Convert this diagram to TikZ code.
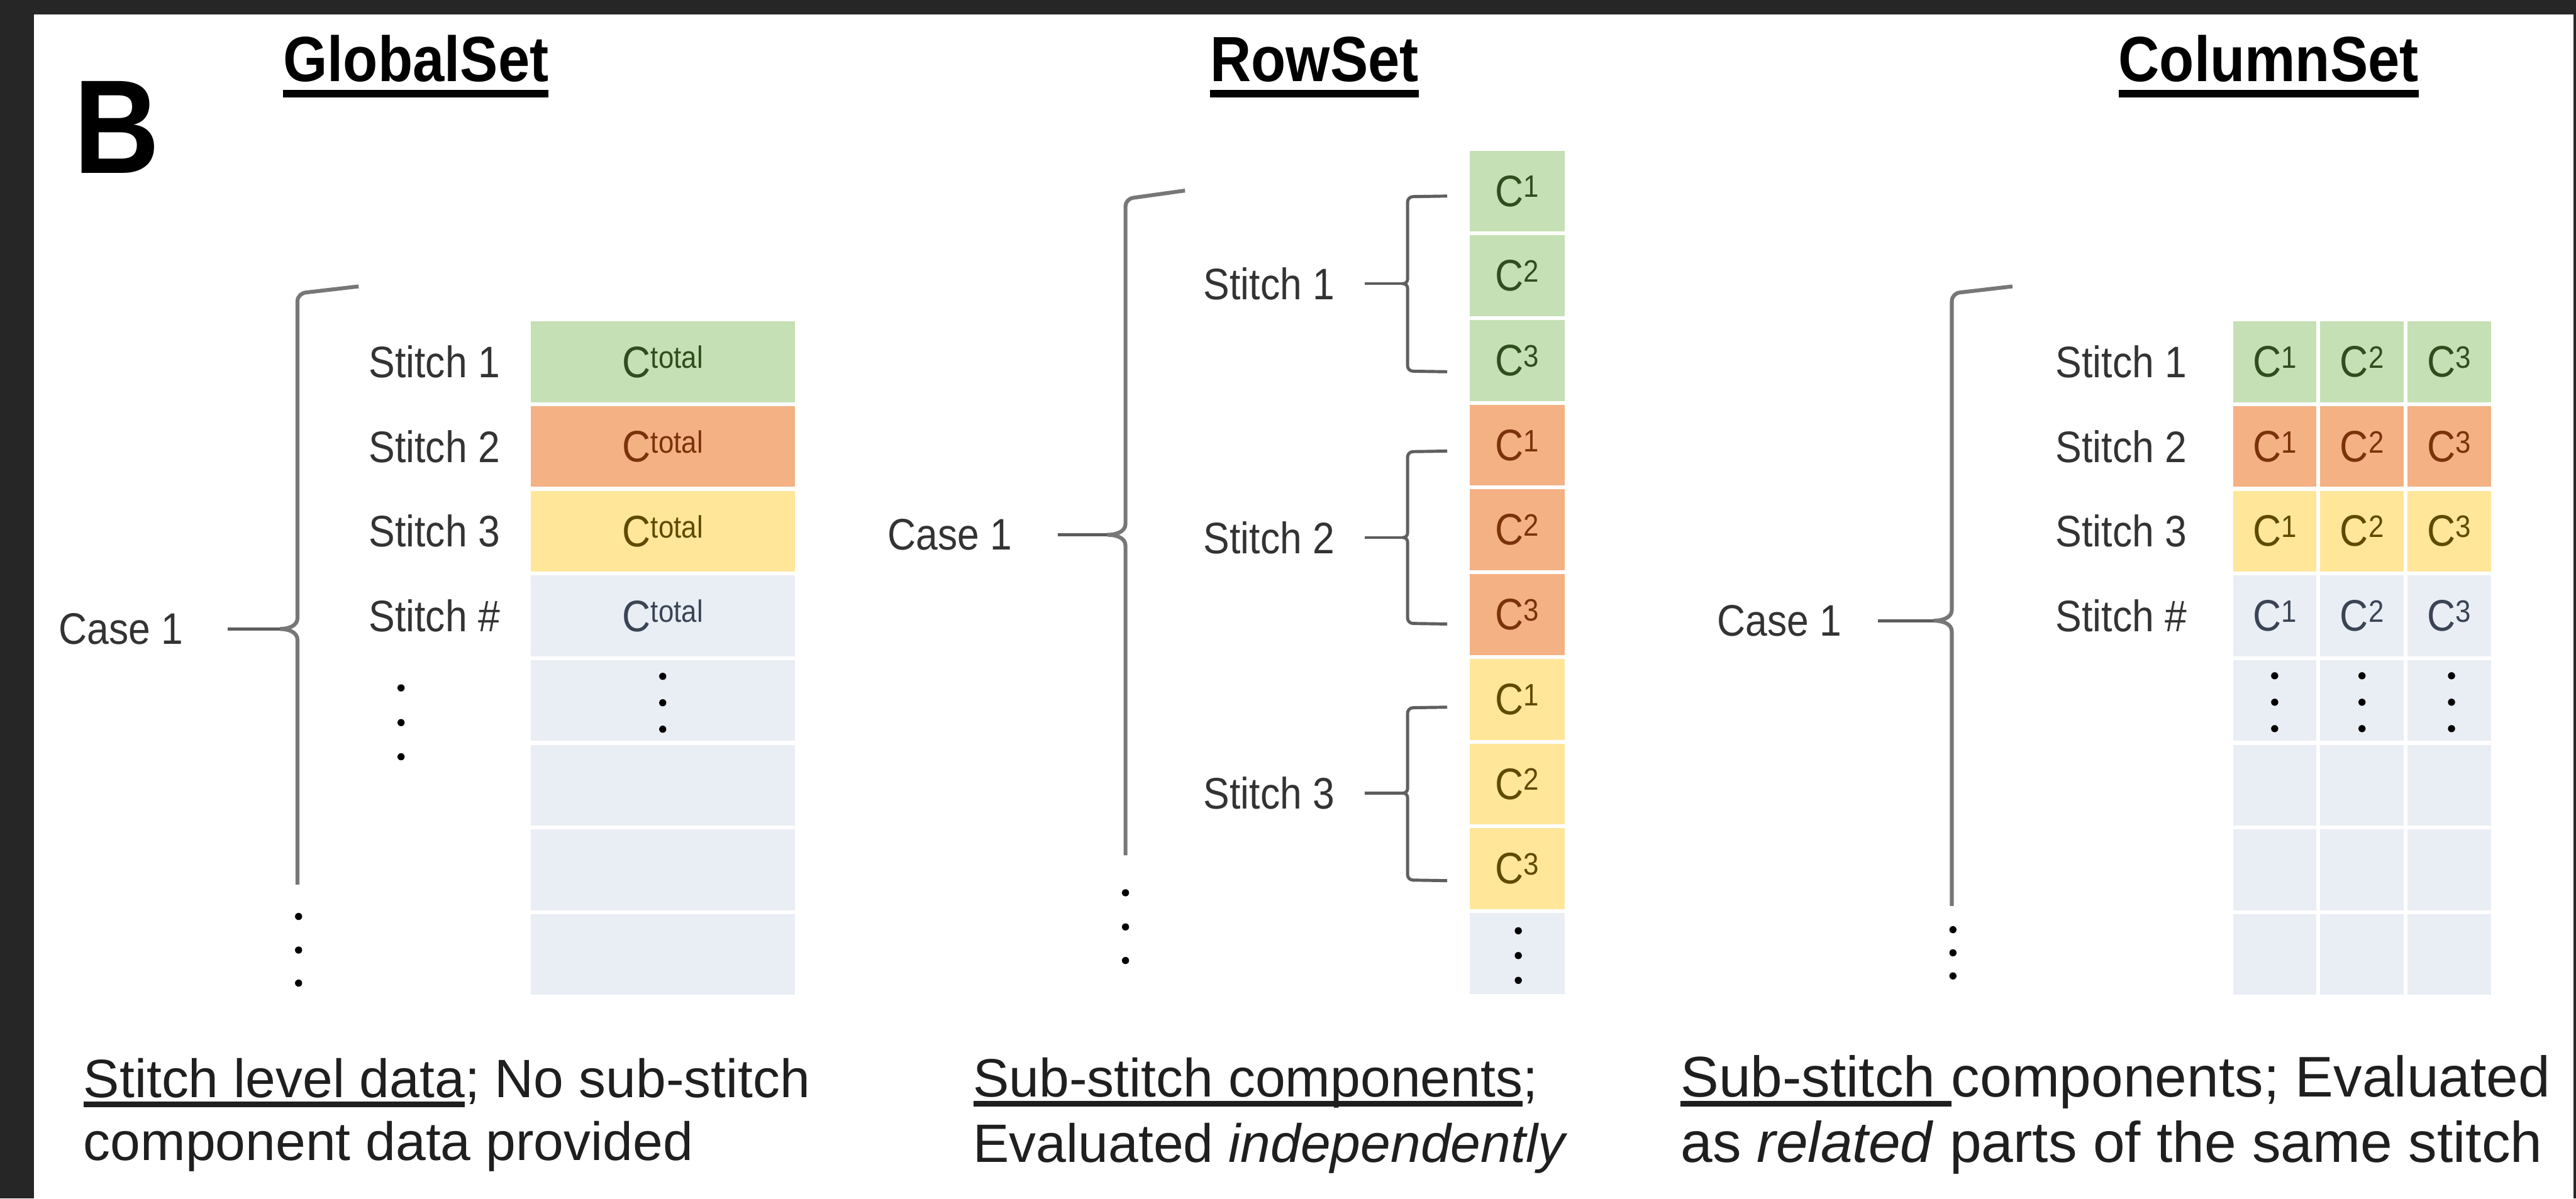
\documentclass[tikz,border=0pt]{standalone}
\usepackage{fontspec}
\setmainfont{Liberation Sans}
\newfontfamily\narrowfont[FakeStretch=0.89]{Liberation Sans}
\usepackage{tikz}
\definecolor{edgedark}{HTML}{262626}
\definecolor{cgreen}{HTML}{C5E0B4}
\definecolor{corange}{HTML}{F4B183}
\definecolor{cyellow}{HTML}{FFE699}
\definecolor{cblue}{HTML}{E9EDF4}
\definecolor{tgreen}{HTML}{2F4D1E}
\definecolor{torange}{HTML}{7A320A}
\definecolor{tyellow}{HTML}{5E4A00}
\definecolor{tblue}{HTML}{3A4454}
\definecolor{ink}{HTML}{333333}
\definecolor{bracegray}{HTML}{777777}
\newsavebox\ulbox
\newcommand\Csup[1]{C\raisebox{4.6pt}{\fontsize{16}{16}\selectfont#1}}
\newcommand\headline[1]{\sbox\ulbox{#1}\rlap{\rule[-8.2pt]{\wd\ulbox}{4pt}}\usebox\ulbox}
\newcommand\capline[1]{\sbox\ulbox{#1}\rlap{\rule[-4.8pt]{\wd\ulbox}{2.8pt}}\usebox\ulbox}
\tikzset{cell/.style={draw=white,line width=2pt,inner sep=0pt,font=\narrowfont\fontsize{22.8}{24}\selectfont}, gfill/.style={fill=cgreen,text=tgreen}, ofill/.style={fill=corange,text=torange}, yfill/.style={fill=cyellow,text=tyellow}, bfill/.style={fill=cblue,text=tblue}, globcell/.style={minimum width=4.86cm,minimum height=1.5375cm}, rowcell/.style={minimum width=1.80cm,minimum height=1.538cm}, colcell/.style={minimum width=1.583cm,minimum height=1.5375cm}, stitchlbl/.style={anchor=west,inner sep=0pt,text=ink,font=\narrowfont\fontsize{22.8}{24}\selectfont}, caselbl/.style={inner sep=0pt,text=ink,font=\narrowfont\fontsize{22.8}{24}\selectfont}, heading/.style={anchor=base,inner sep=0pt,font=\narrowfont\bfseries\fontsize{33}{36}\selectfont}, capt/.style={anchor=base west,inner sep=0pt,text=black!88,font=\fontsize{27.9}{32}\selectfont}, brace/.style={draw=bracegray,line width=2pt}, sbrace/.style={draw=bracegray!80!black,line width=1.6pt}, link/.style={draw=ink!80,line width=1.5pt}}

\begin{document}
\begin{tikzpicture}
\useasboundingbox (0,0) rectangle (46.76,-21.76);
\fill[edgedark] (0,0) rectangle (46.76,-21.76);
\fill[white] (0.62,-0.26) rectangle (46.71,-21.76);
\node[anchor=base west,inner sep=0pt,font=\narrowfont\bfseries\fontsize{69}{69}\selectfont] (panel) at (1.34,-3.15) {B};
\node[heading] (globalset) at (7.55,-1.48) {\headline{GlobalSet}};
\node[heading] (rowset) at (23.86,-1.48) {\headline{RowSet}};
\node[heading] (columnset) at (41.18,-1.48) {\headline{ColumnSet}};
% GlobalSet
\node[caselbl] (gcase) at (2.20,-11.42) {Case 1};
\coordinate (gtip) at (5.08,-11.42);
\draw[link] ([xshift=8mm]gcase.east) -- (gtip);
\draw[brace] (6.51,-5.20) -- (5.56,-5.31) to[out=185,in=90] (5.40,-5.47) -- (5.40,-11.22) to[out=-90,in=0] (gtip) to[out=0,in=90] (5.40,-11.62) -- (5.40,-16.06);
\fill (5.42,-16.64) circle (0.065) (5.42,-17.25) circle (0.065) (5.42,-17.85) circle (0.065);
\node[stitchlbl] (g1) at (6.69,-6.57) {Stitch 1};
\node[stitchlbl] (g2) at (6.69,-8.11) {Stitch 2};
\node[stitchlbl] (g3) at (6.69,-9.64) {Stitch 3};
\node[stitchlbl] (g4) at (6.69,-11.18) {Stitch \#};
\fill (7.28,-12.49) circle (0.065) (7.28,-13.12) circle (0.065) (7.28,-13.74) circle (0.065);
\node[cell,globcell,gfill] (gc1) at (12.03,-6.569) {\Csup{total}};
\node[cell,globcell,ofill] (gc2) at (12.03,-8.106) {\Csup{total}};
\node[cell,globcell,yfill] (gc3) at (12.03,-9.644) {\Csup{total}};
\node[cell,globcell,bfill] (gc4) at (12.03,-11.181) {\Csup{total}};
\node[cell,globcell,bfill] (gc5) at (12.03,-12.719) {};
\node[cell,globcell,bfill] (gc6) at (12.03,-14.256) {};
\node[cell,globcell,bfill] (gc7) at (12.03,-15.794) {};
\node[cell,globcell,bfill] (gc8) at (12.03,-17.331) {};
\fill (12.03,-12.28) circle (0.065) (12.03,-12.76) circle (0.065) (12.03,-13.24) circle (0.065);
\node[capt] (gcap1) at (1.51,-19.93) {\capline{Stitch level data}; No sub-stitch};
\node[capt] (gcap2) at (1.51,-21.07) {component data provided};
% RowSet
\node[caselbl] (rcase) at (17.24,-9.71) {Case 1};
\coordinate (rtip) at (20.10,-9.71);
\draw[link] ([xshift=8.3mm]rcase.east) -- (rtip);
\draw[brace] (21.51,-3.46) -- (20.58,-3.59) to[out=185,in=90] (20.43,-3.75) -- (20.43,-9.51) to[out=-90,in=0] (rtip) to[out=0,in=90] (20.43,-9.91) -- (20.43,-15.53);
\fill (20.43,-16.21) circle (0.065) (20.43,-16.83) circle (0.065) (20.43,-17.44) circle (0.065);
\node[stitchlbl] (r1) at (21.84,-5.15) {Stitch 1};
\node[stitchlbl] (r2) at (21.84,-9.76) {Stitch 2};
\node[stitchlbl] (r3) at (21.84,-14.40) {Stitch 3};
\coordinate (r1tip) at (25.47,-5.15);
\coordinate (r2tip) at (25.47,-9.76);
\coordinate (r3tip) at (25.47,-14.40);
\draw[link] ([xshift=5.4mm]r1.east) -- (r1tip);
\draw[link] ([xshift=5.4mm]r2.east) -- (r2tip);
\draw[link] ([xshift=5.4mm]r3.east) -- (r3tip);
\draw[sbrace] (26.27,-3.56) -- (25.65,-3.57) to[out=180,in=90] (25.55,-3.67) -- (25.55,-5.07) to[out=-90,in=0] (r1tip) to[out=0,in=90] (25.55,-5.23) -- (25.55,-6.64) to[out=-90,in=180] (25.65,-6.74) -- (26.27,-6.75);
\draw[sbrace] (26.27,-8.19) -- (25.65,-8.20) to[out=180,in=90] (25.55,-8.30) -- (25.55,-9.68) to[out=-90,in=0] (r2tip) to[out=0,in=90] (25.55,-9.84) -- (25.55,-11.22) to[out=-90,in=180] (25.65,-11.32) -- (26.27,-11.33);
\draw[sbrace] (26.27,-12.84) -- (25.65,-12.85) to[out=180,in=90] (25.55,-12.95) -- (25.55,-14.32) to[out=-90,in=0] (r3tip) to[out=0,in=90] (25.55,-14.48) -- (25.55,-15.88) to[out=-90,in=180] (25.65,-15.98) -- (26.27,-15.99);
\node[cell,rowcell,gfill] (rc1) at (27.54,-3.469) {\Csup{1}};
\node[cell,rowcell,gfill] (rc2) at (27.54,-5.007) {\Csup{2}};
\node[cell,rowcell,gfill] (rc3) at (27.54,-6.545) {\Csup{3}};
\node[cell,rowcell,ofill] (rc4) at (27.54,-8.083) {\Csup{1}};
\node[cell,rowcell,ofill] (rc5) at (27.54,-9.621) {\Csup{2}};
\node[cell,rowcell,ofill] (rc6) at (27.54,-11.159) {\Csup{3}};
\node[cell,rowcell,yfill] (rc7) at (27.54,-12.697) {\Csup{1}};
\node[cell,rowcell,yfill] (rc8) at (27.54,-14.235) {\Csup{2}};
\node[cell,rowcell,yfill] (rc9) at (27.54,-15.773) {\Csup{3}};
\node[cell,rowcell,bfill] (rc10) at (27.54,-17.311) {};
\fill (27.56,-16.90) circle (0.065) (27.56,-17.35) circle (0.065) (27.56,-17.80) circle (0.065);
\node[capt] (rcap1) at (17.66,-19.92) {\capline{Sub-stitch components};};
\node[capt] (rcap2) at (17.66,-21.10) {Evaluated \textit{independently}};
% ColumnSet
\node[caselbl] (ccase) at (32.30,-11.27) {Case 1};
\coordinate (ctip) at (35.10,-11.27);
\draw[link] ([xshift=6.5mm]ccase.east) -- (ctip);
\draw[brace] (36.53,-5.20) -- (35.58,-5.31) to[out=185,in=90] (35.43,-5.47) -- (35.43,-11.07) to[out=-90,in=0] (ctip) to[out=0,in=90] (35.43,-11.47) -- (35.43,-16.45);
\fill (35.45,-16.88) circle (0.065) (35.45,-17.30) circle (0.065) (35.45,-17.72) circle (0.065);
\node[stitchlbl] (c1) at (37.31,-6.57) {Stitch 1};
\node[stitchlbl] (c2) at (37.31,-8.11) {Stitch 2};
\node[stitchlbl] (c3) at (37.31,-9.64) {Stitch 3};
\node[stitchlbl] (c4) at (37.31,-11.18) {Stitch \#};
\node[cell,colcell,gfill] (cc11) at (41.29,-6.569) {\Csup{1}};
\node[cell,colcell,gfill] (cc12) at (42.875,-6.569) {\Csup{2}};
\node[cell,colcell,gfill] (cc13) at (44.46,-6.569) {\Csup{3}};
\node[cell,colcell,ofill] (cc21) at (41.29,-8.106) {\Csup{1}};
\node[cell,colcell,ofill] (cc22) at (42.875,-8.106) {\Csup{2}};
\node[cell,colcell,ofill] (cc23) at (44.46,-8.106) {\Csup{3}};
\node[cell,colcell,yfill] (cc31) at (41.29,-9.644) {\Csup{1}};
\node[cell,colcell,yfill] (cc32) at (42.875,-9.644) {\Csup{2}};
\node[cell,colcell,yfill] (cc33) at (44.46,-9.644) {\Csup{3}};
\node[cell,colcell,bfill] (cc41) at (41.29,-11.181) {\Csup{1}};
\node[cell,colcell,bfill] (cc42) at (42.875,-11.181) {\Csup{2}};
\node[cell,colcell,bfill] (cc43) at (44.46,-11.181) {\Csup{3}};
\node[cell,colcell,bfill] (cc51) at (41.29,-12.719) {};
\node[cell,colcell,bfill] (cc52) at (42.875,-12.719) {};
\node[cell,colcell,bfill] (cc53) at (44.46,-12.719) {};
\node[cell,colcell,bfill] (cc61) at (41.29,-14.256) {};
\node[cell,colcell,bfill] (cc62) at (42.875,-14.256) {};
\node[cell,colcell,bfill] (cc63) at (44.46,-14.256) {};
\node[cell,colcell,bfill] (cc71) at (41.29,-15.794) {};
\node[cell,colcell,bfill] (cc72) at (42.875,-15.794) {};
\node[cell,colcell,bfill] (cc73) at (44.46,-15.794) {};
\node[cell,colcell,bfill] (cc81) at (41.29,-17.331) {};
\node[cell,colcell,bfill] (cc82) at (42.875,-17.331) {};
\node[cell,colcell,bfill] (cc83) at (44.46,-17.331) {};
\fill (41.29,-12.27) circle (0.065) (41.29,-12.75) circle (0.065) (41.29,-13.23) circle (0.065);
\fill (42.875,-12.27) circle (0.065) (42.875,-12.75) circle (0.065) (42.875,-13.23) circle (0.065);
\fill (44.50,-12.27) circle (0.065) (44.50,-12.75) circle (0.065) (44.50,-13.23) circle (0.065);
\node[capt,font=\fontsize{29.6}{32}\selectfont] (ccap1) at (30.50,-19.92) {\capline{Sub-stitch\ }components; Evaluated};
\node[capt,font=\fontsize{29.6}{32}\selectfont] (ccap2) at (30.50,-21.10) {as \textit{related} parts of the same stitch};
\end{tikzpicture}
\end{document}
